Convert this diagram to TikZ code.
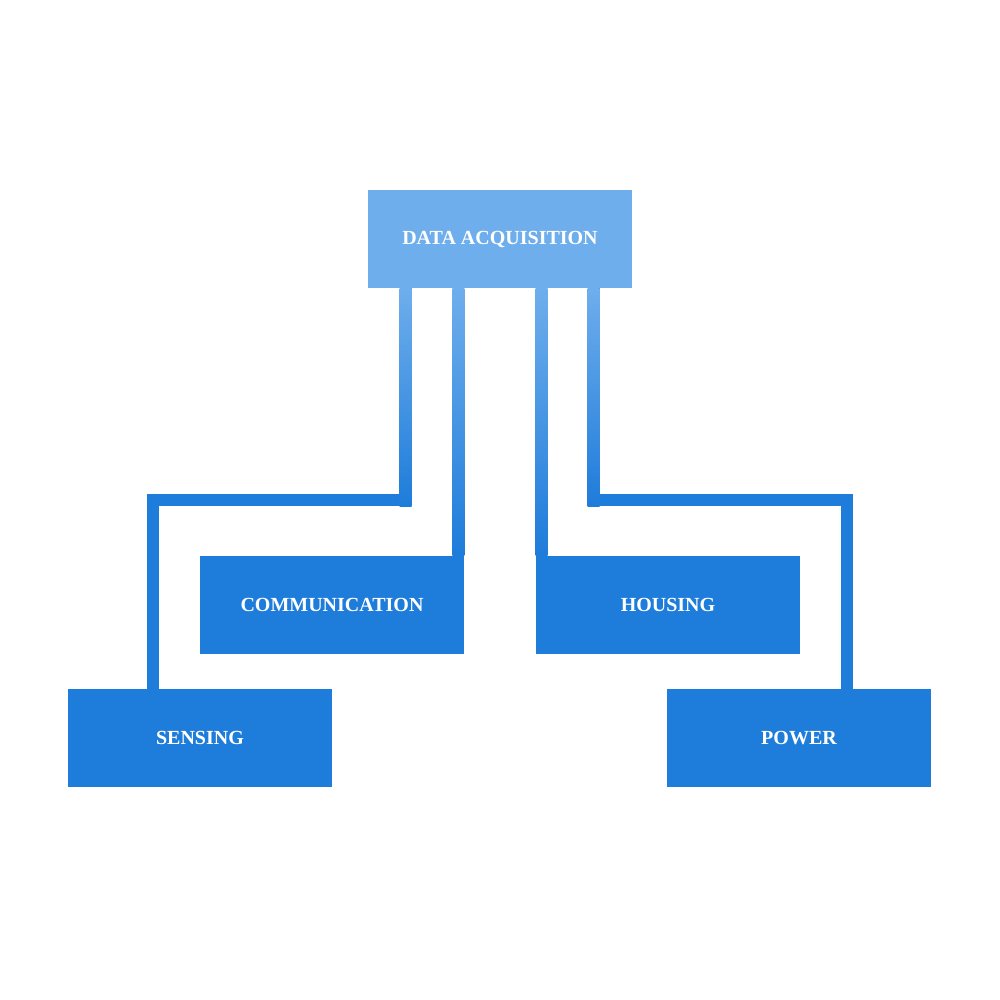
\documentclass[tikz,border=0pt]{standalone}
\usepackage{fontspec}
\setmainfont{Liberation Serif}
\usetikzlibrary{calc}
\definecolor{lightb}{RGB}{110,174,236}
\definecolor{darkb}{RGB}{30,124,218}
\begin{document}
\begin{tikzpicture}[x=0.75pt,y=-0.75pt,
  box/.style={draw=none, minimum width=198pt, minimum height=73.5pt, inner sep=0pt, text=white,
    font=\bfseries\fontsize{15}{18}\selectfont},
  conn/.style={draw=darkb, line width=9pt, line join=miter},
  vgrad/.style={top color=lightb, bottom color=darkb, draw=none}
]
\useasboundingbox (0,0) rectangle (1000,1000);
\fill[white] (0,0) rectangle (1000,1000);
% nodes
\node[box, fill=lightb] (da)   at (500,239) {DATA ACQUISITION};
\node[box, fill=darkb]  (comm) at (332,605) {COMMUNICATION};
\node[box, fill=darkb]  (hous) at (668,605) {HOUSING};
\node[box, fill=darkb]  (sens) at (200,738) {SENSING};
\node[box, fill=darkb]  (pow)  at (799,738) {POWER};
% sensing connector
\draw[conn] ($(da.south west)+(38,0)$) -- ++(0,212) -| ($(sens.north west)+(85,0)$);
\shade[vgrad] ($(da.south west)+(32,0)$) rectangle ($(da.south west)+(44,218)$);
% power connector
\draw[conn] ($(da.south west)+(226,0)$) -- ++(0,212) -| ($(pow.north west)+(180,0)$);
\shade[vgrad] ($(da.south west)+(220,0)$) rectangle ($(da.south west)+(232,218)$);
% communication connector
\shade[vgrad] (da.south -| comm.north east) rectangle ($(comm.north east)+(-12,0)$);
% housing connector
\shade[vgrad] (da.south -| hous.north west) rectangle ($(hous.north west)+(12,0)$);
\end{tikzpicture}
\end{document}
